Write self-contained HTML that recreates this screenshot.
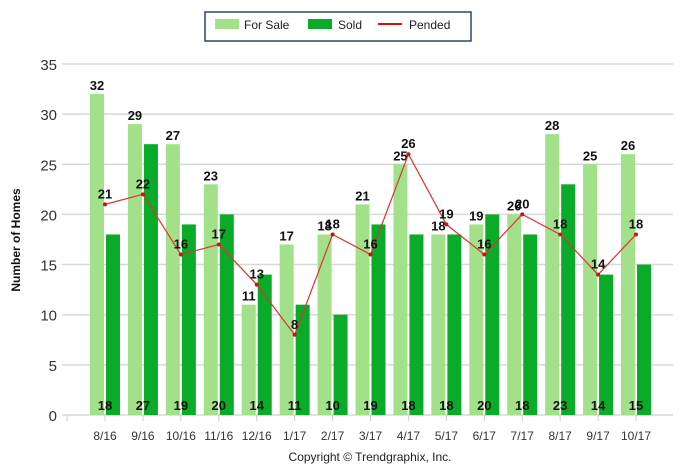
<!DOCTYPE html><html><head><style>body{margin:0;background:#fff}svg{display:block;font-family:"Liberation Sans",sans-serif}</style></head><body>
<svg width="689" height="470" xmlns="http://www.w3.org/2000/svg">
<rect x="205" y="12" width="266" height="29" fill="#fff" stroke="#334466" stroke-width="1.5"/>
<rect x="215" y="19" width="24" height="10" fill="#a2e08a"/><text x="244" y="29" font-size="12" fill="#222">For Sale</text>
<rect x="308" y="19" width="24" height="10" fill="#0aab28"/><text x="338" y="29" font-size="12" fill="#222">Sold</text>
<line x1="378" y1="24" x2="402" y2="24" stroke="#cc1111" stroke-width="2"/><text x="409" y="29" font-size="12" fill="#222">Pended</text>
<g id="g"></g>
<text transform="translate(20,240) rotate(-90)" text-anchor="middle" font-size="12" font-weight="bold" fill="#111">Number of Homes</text>
<text x="370" y="461" text-anchor="middle" font-size="12" fill="#222">Copyright © Trendgraphix, Inc.</text>
</svg>
<script>
var fs=[32,29,27,23,11,17,18,21,25,18,19,20,28,25,26],so=[18,27,19,20,14,11,10,19,18,18,20,18,23,14,15],pe=[21,22,16,17,13,8,18,16,26,19,16,20,18,14,18],lb=["8/16","9/16","10/16","11/16","12/16","1/17","2/17","3/17","4/17","5/17","6/17","7/17","8/17","9/17","10/17"];
function Y(v){return 415-v*10.03}
var s="";
for(var v=0;v<=35;v+=5){s+='<line x1="62" x2="673" y1="'+Y(v)+'" y2="'+Y(v)+'" stroke="#d8d8d8" stroke-width="1.5"/><text x="57" y="'+(Y(v)+6)+'" text-anchor="end" font-size="15" fill="#333">'+v+'</text>';}
s+='<line x1="67" y1="415" x2="67" y2="421" stroke="#ccc"/>';
var pts=[];
for(var i=0;i<15;i++){var c=105+i*37.93;
s+='<rect x="'+(c-15)+'" y="'+Y(fs[i])+'" width="14" height="'+(415-Y(fs[i]))+'" fill="#a2e08a"/>';
s+='<rect x="'+(c+1)+'" y="'+Y(so[i])+'" width="14" height="'+(415-Y(so[i]))+'" fill="#0aab28"/>';
s+='<line x1="'+c+'" y1="415" x2="'+c+'" y2="421" stroke="#ccc"/>';
s+='<text x="'+c+'" y="440" text-anchor="middle" font-size="12" fill="#333">'+lb[i]+'</text>';
s+='<text x="'+(c-8)+'" y="'+(Y(fs[i])-4)+'" text-anchor="middle" font-size="13" font-weight="bold" fill="#111">'+fs[i]+'</text>';
s+='<text x="'+c+'" y="410" text-anchor="middle" font-size="13" font-weight="bold" fill="#111">'+so[i]+'</text>';
pts.push(c+','+Y(pe[i]));}
s+='<polyline points="'+pts.join(' ')+'" fill="none" stroke="#dd3333" stroke-width="1.2"/>';
for(var i=0;i<15;i++){var c=105+i*37.93;s+='<circle cx="'+c+'" cy="'+Y(pe[i])+'" r="2" fill="#cc1111"/><text x="'+c+'" y="'+(Y(pe[i])-6)+'" text-anchor="middle" font-size="13" font-weight="bold" fill="#111">'+pe[i]+'</text>';}
document.getElementById("g").innerHTML=s;
</script>
</body></html>
